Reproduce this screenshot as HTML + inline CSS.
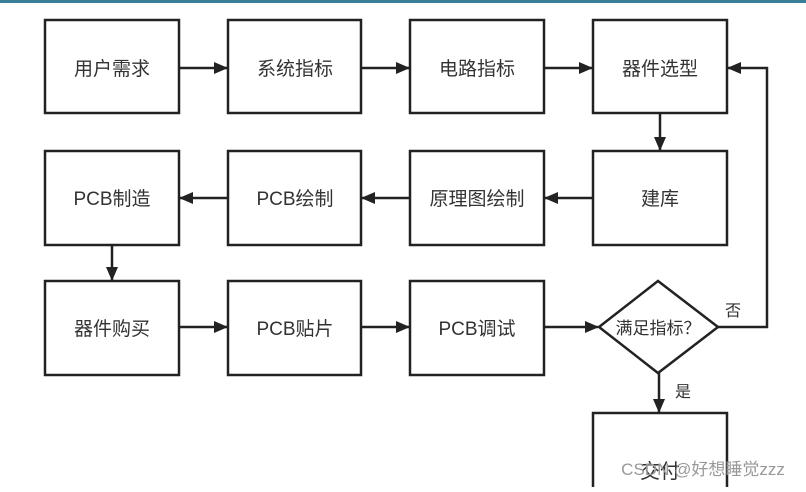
<!DOCTYPE html>
<html><head><meta charset="utf-8"><style>
body{margin:0;background:#fff;}
svg text{font-family:"Liberation Sans","Noto Sans CJK SC",sans-serif;font-size:19px;fill:#333;}
</style></head><body>
<svg width="806" height="487" viewBox="0 0 806 487" xmlns="http://www.w3.org/2000/svg">
<defs><marker id="a" markerWidth="14" markerHeight="14" refX="13" refY="6" orient="auto" markerUnits="userSpaceOnUse"><path d="M0,0 L14,6 L0,12 z" fill="#222"/></marker></defs>
<rect x="0" y="0" width="806" height="3" fill="#3a7f9a"/>
<g fill="none" stroke="#222" stroke-width="2.5">
<rect x="45" y="20" width="134" height="93"/>
<rect x="228" y="20" width="133" height="93"/>
<rect x="410" y="20" width="134" height="93"/>
<rect x="593" y="20" width="134" height="93"/>
<rect x="45" y="151" width="134" height="94"/>
<rect x="228" y="151" width="133" height="94"/>
<rect x="410" y="151" width="134" height="94"/>
<rect x="593" y="151" width="134" height="94"/>
<rect x="45" y="281" width="134" height="94"/>
<rect x="228" y="281" width="133" height="94"/>
<rect x="410" y="281" width="134" height="94"/>
<path d="M658,281 L718,327 L658,373 L599,327 Z"/>
<path d="M593,490 L593,413 L727,413 L727,490"/>
<g marker-end="url(#a)">
<line x1="179" y1="68" x2="227" y2="68"/>
<line x1="361" y1="68" x2="409" y2="68"/>
<line x1="544" y1="68" x2="592" y2="68"/>
<line x1="660" y1="113" x2="660" y2="150"/>
<line x1="593" y1="198" x2="545" y2="198"/>
<line x1="410" y1="198" x2="362" y2="198"/>
<line x1="228" y1="198" x2="180" y2="198"/>
<line x1="112" y1="245" x2="112" y2="280"/>
<line x1="179" y1="327" x2="227" y2="327"/>
<line x1="361" y1="327" x2="409" y2="327"/>
<line x1="544" y1="327" x2="598" y2="327"/>
<line x1="659" y1="373" x2="659" y2="412"/>
<polyline points="718,327 767,327 767,68 728,68"/>
</g>
</g>
<g text-anchor="middle">
<text x="112" y="75">用户需求</text>
<text x="295" y="75">系统指标</text>
<text x="477" y="75">电路指标</text>
<text x="660" y="75">器件选型</text>
<text x="112" y="205">PCB制造</text>
<text x="295" y="205">PCB绘制</text>
<text x="477" y="205">原理图绘制</text>
<text x="660" y="205">建库</text>
<text x="112" y="335">器件购买</text>
<text x="295" y="335">PCB贴片</text>
<text x="477" y="335">PCB调试</text>
<text x="658" y="334" style="font-size:17px">满足指标？</text>
<text x="733" y="316" style="font-size:16px">否</text>
<text x="683" y="397" style="font-size:16px">是</text>
<text x="660" y="478" style="font-size:20px">交付</text>
<text x="703" y="475" style="font-size:17px;fill:#999">CSDN @好想睡觉zzz</text>
</g>
</svg>
</body></html>
